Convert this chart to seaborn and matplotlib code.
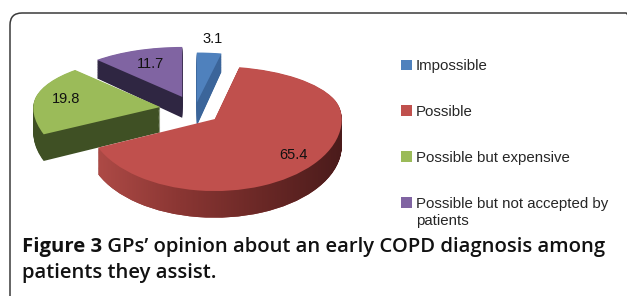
import numpy as np
import matplotlib
matplotlib.use("Agg")
import matplotlib.pyplot as plt
import matplotlib.colors as mcolors
import seaborn as sns
from matplotlib.patches import FancyBboxPatch, PathPatch
from matplotlib.path import Path
from matplotlib.transforms import IdentityTransform

# ---------------- data ----------------
categories = ["Impossible", "Possible", "Possible but expensive",
              "Possible but not accepted by\npatients"]
values = [3.1, 65.4, 19.8, 11.7]
value_labels = ["3.1", "65.4", "19.8", "11.7"]
caption_bold = "Figure 3"
caption_line1 = " GPs\u2019 opinion about an early COPD diagnosis among"
caption_line2 = "patients they assist."

# ---------------- style ----------------
top_colors = ["#4f81bd", "#c0504d", "#9bbb59", "#8064a2"]
side_colors = ["#3b659a", "#8a3330", "#3f5024", "#2f2642"]
explode = [0.15, 0.2, 0.28, 0.28]
label_dist = [1.27, 0.8, 0.76, 0.7]

sns.set_theme(style="white")
plt.rcParams["font.family"] = ["Liberation Sans", "DejaVu Sans"]

W, H = 627, 296
fig = plt.figure(figsize=(W / 100, H / 100), dpi=100)
fig.patch.set_facecolor("white")


def fx(x):
    return x / W


def fy(y):
    return 1 - y / H


ax = fig.add_axes([0, 0, 1, 1])

# pie geometry (pixels per unit), perspective: back half compressed
X0, Y0 = 195, 110
SX, SY_FRONT, SY_BACK = 127, 72, 50
k = SY_BACK / SY_FRONT


def fwd(y):
    y = np.asarray(y, dtype=float)
    return np.where(y > 0, y * k, y)


def inv(y):
    y = np.asarray(y, dtype=float)
    return np.where(y > 0, y / k, y)


depth = 0.37
n_levels = 30
red_side_paths = []
for i in range(n_levels, 0, -1):
    dy = -depth * i / n_levels
    wedges_s, _ = ax.pie(values, explode=explode, startangle=90, counterclock=False,
                         colors=side_colors, center=(0, dy),
                         wedgeprops=dict(linewidth=0, zorder=1))
    red_side_paths.append(wedges_s[1].get_path())

# gradient on the red slice's side wall
red_compound = Path.make_compound_path(*red_side_paths)
red_clip = PathPatch(red_compound, transform=ax.transData, facecolor="none",
                     edgecolor="none")
ax.add_patch(red_clip)
vx = red_compound.vertices[:, 0]
vy = red_compound.vertices[:, 1]
cmap = mcolors.LinearSegmentedColormap.from_list(
    "redside", ["#ad4a46", "#8a3633", "#6a2826", "#4a1b1b"])
im = ax.imshow(np.linspace(0, 1, 256)[None, :], cmap=cmap, aspect="auto",
               extent=(vx.min(), vx.max(), vy.min(), vy.max()),
               interpolation="bilinear", zorder=1.5)
im.set_clip_path(red_clip)

wedges, _ = ax.pie(values, explode=explode, startangle=90, counterclock=False,
                   colors=top_colors, center=(0, 0),
                   wedgeprops=dict(linewidth=0, zorder=2))

# value labels
cum = np.cumsum([0] + values[:-1])
tot = sum(values)
for v, c, e, d, lab in zip(values, cum, explode, label_dist, value_labels):
    ang = np.deg2rad(90 - (c + v / 2) / tot * 360)
    ax.text((e + d) * np.cos(ang), (e + d) * np.sin(ang), lab,
            ha="center", va="center", fontsize=10.5, color="#111111", zorder=5)

ax.set_yscale("function", functions=(fwd, inv))
ax.set_aspect("auto")
ax.set_xlim(-X0 / SX, (W - X0) / SX)
ax.set_ylim(float(inv(-(H - Y0) / SY_FRONT)), float(inv(Y0 / SY_FRONT)))
ax.axis("off")

# legend (first line of each label in the legend; wrapped remainder below)
leg_fs = 10.8
first_lines = [c.split("\n")[0] for c in categories]
leg = fig.legend(wedges, first_lines, loc="upper left",
                 bbox_to_anchor=(fx(401), fy(59)), frameon=False,
                 fontsize=leg_fs, handlelength=0.7, handleheight=0.7,
                 handletextpad=0.3, labelspacing=2.13, borderpad=0,
                 borderaxespad=0)
fig.canvas.draw()
renderer = fig.canvas.get_renderer()
for cat, txt in zip(categories, leg.get_texts()):
    rest = cat.split("\n")[1:]
    if rest:
        bb = txt.get_window_extent(renderer)
        fig.text(bb.x0 / W, (bb.y0 - 3) / H, "\n".join(rest), fontsize=leg_fs,
                 va="top", ha="left", color=txt.get_color())

# rounded frame
box = FancyBboxPatch((10, -40), 628, H - 13 + 40,
                     boxstyle="round,pad=0,rounding_size=12",
                     transform=IdentityTransform(), facecolor="none",
                     edgecolor="#3a3a3a", linewidth=1.1)
fig.add_artist(box)

# caption
cap_font = "Open Sans"
fs = 14
t1 = fig.text(fx(22), fy(252), caption_bold, fontsize=fs, fontweight="bold",
              family=cap_font, va="baseline", color="#111111")
t2 = fig.text(0, fy(252), caption_line1, fontsize=fs, fontweight="semibold",
              family=cap_font, va="baseline", color="#111111")
t3 = fig.text(fx(22), fy(278), caption_line2, fontsize=fs, fontweight="semibold",
              family=cap_font, va="baseline", color="#111111")
for _ in range(3):
    for t in (t1, t2, t3):
        t.set_fontsize(fs)
    b1 = t1.get_window_extent(renderer)
    t2.set_x(b1.x1 / W)
    b2 = t2.get_window_extent(renderer)
    fs = fs * (605 - 22) / (b2.x1 - b1.x0)
for t in (t1, t2, t3):
    t.set_fontsize(fs)
b1 = t1.get_window_extent(renderer)
t2.set_x(b1.x1 / W)

fig.savefig("out.png", dpi=100)
